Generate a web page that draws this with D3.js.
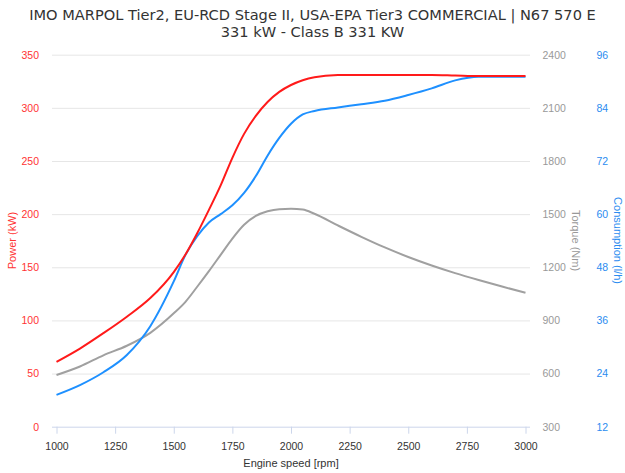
<!DOCTYPE html>
<html>
<head>
<meta charset="utf-8">
<script src="https://cdn.jsdelivr.net/npm/d3@7"></script>
<style>
  body { margin: 0; background: #fff; }
  text { font-family: "Liberation Sans", sans-serif; }
</style>
</head>
<body>
<div id="chart"></div>
<script>
// engine speed samples (rpm)
const rpm = [1000, 1100, 1200, 1300, 1400, 1500, 1550, 1600, 1650, 1700, 1750, 1800, 1850, 1900, 1950, 2000, 2050, 2100, 2200, 2300, 2400, 2500, 2600, 2700, 2800, 2900, 3000];
// power (kW)
const power = [61, 73.5, 88, 103.5, 121, 145.5, 162, 182, 204, 227, 253, 275.5, 292.5, 305.5, 315, 321.5, 326, 328.8, 330.8, 331, 331, 331, 331, 330.5, 330, 330, 330];
// torque (Nm)
const torque = [592, 640, 703, 757, 830, 940, 1005, 1090, 1178, 1270, 1362, 1440, 1490, 1516, 1528, 1530, 1526, 1502, 1436, 1372, 1312, 1258, 1210, 1167, 1128, 1091, 1056];
// consumption (l/h)
const consumption = [19.2, 21.4, 24.3, 28.2, 34.7, 44.8, 50.8, 55, 58.1, 60, 62, 64.8, 68.6, 73.2, 77.2, 80.4, 82.5, 83.3, 84.1, 84.8, 85.6, 86.9, 88.4, 90.2, 91, 91, 91];

const xTicks = [1000, 1250, 1500, 1750, 2000, 2250, 2500, 2750, 3000];
const powerTicks = [0, 50, 100, 150, 200, 250, 300, 350];
const torqueTicks = [300, 600, 900, 1200, 1500, 1800, 2100, 2400];
const consTicks = [12, 24, 36, 48, 60, 72, 84, 96];

const titleLines = ["IMO MARPOL Tier2, EU-RCD Stage II, USA-EPA Tier3 COMMERCIAL | N67 570 E", "331 kW - Class B 331 KW"];

const width = 625, height = 473;
const plot = { left: 52, right: 530, top: 54.7, bottom: 426.7 };

const svg = d3.select("#chart").append("svg")
    .attr("width", width)
    .attr("height", height);

const x = d3.scaleLinear().domain([1000, 3000]).range([56.5, 525.5]);
const yPower = d3.scaleLinear().domain([0, 350]).range([plot.bottom, plot.top]);
const yTorque = d3.scaleLinear().domain([300, 2400]).range([plot.bottom, plot.top]);
const yCons = d3.scaleLinear().domain([12, 96]).range([plot.bottom, plot.top]);

// title
svg.append("g").selectAll("text")
   .data(titleLines)
   .enter().append("text")
   .attr("x", width / 2)
   .attr("y", (d, i) => 20 + i * 16.5)
   .attr("text-anchor", "middle")
   .style("font-family", "DejaVu Sans, sans-serif")
   .style("font-size", "14.6px")
   .style("fill", "#333")
   .text(d => d);

// grid lines
svg.append("g").selectAll("line")
   .data(powerTicks.slice(1))
   .enter().append("line")
   .attr("x1", plot.left)
   .attr("x2", plot.right)
   .attr("y1", d => yPower(d) + 0.5)
   .attr("y2", d => yPower(d) + 0.5)
   .attr("stroke", "#e6e6e6");

// x axis
const xAxis = svg.append("g")
   .attr("transform", `translate(0, ${plot.bottom})`)
   .call(d3.axisBottom(x).tickValues(xTicks).tickSize(7).tickPadding(9).tickFormat(d3.format("d")));
xAxis.select(".domain").remove();
xAxis.selectAll(".tick line").attr("stroke", "#ccd6eb");
xAxis.selectAll(".tick text").style("font-size", "10.5px").style("fill", "#333").style("font-family", "Liberation Sans, sans-serif");
svg.append("line")
   .attr("x1", plot.left).attr("x2", plot.right)
   .attr("y1", plot.bottom + 0.5).attr("y2", plot.bottom + 0.5)
   .attr("stroke", "#ccd6eb");

svg.append("text")
   .attr("x", (x(1000) + x(3000)) / 2)
   .attr("y", 467)
   .attr("text-anchor", "middle")
   .style("font-size", "11px")
   .style("fill", "#333")
   .text("Engine speed [rpm]");

// y axes
function yAxis(scale, ticks, gen, xPos, color) {
    const g = svg.append("g")
       .attr("transform", `translate(${xPos}, 0)`)
       .call(gen(scale).tickValues(ticks).tickSize(0).tickPadding(0).tickFormat(d3.format("d")));
    g.select(".domain").remove();
    g.selectAll(".tick text")
     .style("font-size", "10.5px")
     .style("fill", color)
     .style("font-family", "Liberation Sans, sans-serif");
}
yAxis(yPower, powerTicks, d3.axisLeft, 39, "#ff3333");
yAxis(yTorque, torqueTicks, d3.axisRight, 542.5, "#999");
yAxis(yCons, consTicks, d3.axisRight, 596.5, "#2b8cf0");

function axisTitle(label, xPos, rot, color) {
    svg.append("text")
       .attr("transform", `translate(${xPos}, 240.5) rotate(${rot})`)
       .attr("text-anchor", "middle")
       .style("font-size", "11px")
       .style("fill", color)
       .text(label);
}
axisTitle("Power (kW)", 16, -90, "#ff3333");
axisTitle("Torque (Nm)", 572, 90, "#999");
axisTitle("Consumption (l/h)", 613.5, 90, "#2b8cf0");

// lines
const series = [
    { values: torque, scale: yTorque, color: "#a0a0a0" },
    { values: consumption, scale: yCons, color: "#1e90ff" },
    { values: power, scale: yPower, color: "#ff1a1a" }
];
series.forEach(s => {
    const line = d3.line()
       .x((d, i) => x(rpm[i]))
       .y(d => s.scale(d))
       .curve(d3.curveMonotoneX);
    svg.append("path")
       .datum(s.values)
       .attr("fill", "none")
       .attr("stroke", s.color)
       .attr("stroke-width", 2)
       .attr("d", line);
});
</script>
</body>
</html>
